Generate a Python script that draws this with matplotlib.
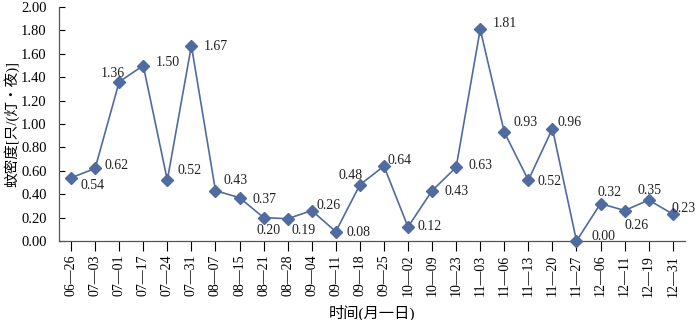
import matplotlib
matplotlib.use('Agg')
import matplotlib.pyplot as plt
import numpy as np

plt.rcParams['font.family'] = ['Liberation Serif', 'Noto Sans CJK SC']

# 监测日期 (月—日)
dates = ['06—26', '07—03', '07—01', '07—17', '07—24', '07—31', '08—07', '08—15',
         '08—21', '08—28', '09—04', '09—11', '09—18', '09—25', '10—02', '10—09',
         '10—23', '11—03', '11—06', '11—13', '11—20', '11—27', '12—06', '12—11',
         '12—19', '12—31']
# 蚊密度 只/(灯·夜)
density = [0.54, 0.62, 1.36, 1.50, 0.52, 1.67, 0.43, 0.37,
           0.20, 0.19, 0.26, 0.08, 0.48, 0.64, 0.12, 0.43,
           0.63, 1.81, 0.93, 0.52, 0.96, 0.00, 0.32, 0.26,
           0.35, 0.23]
yticks = [0.0, 0.2, 0.4, 0.6, 0.8, 1.0, 1.2, 1.4, 1.6, 1.8, 2.0]

# 数据标签偏移 (像素, 标签中心相对于点)
label_offsets = [(22, -8), (21, 3), (-6, 8), (25, 3), (22, 10), (24, -1), (20, 10), (25, -2),
                 (5, -13), (16, -12), (17, 5), (23, -1), (-9, 9), (16, 6), (22, 0), (24, -1),
                 (24, 2), (25, 6), (21, 10), (21, -1), (17, 6), (27, 4), (9, 11), (12, -15),
                 (1, 10), (11, 6)]

line_color = '#4f6ba0'

fig = plt.figure(figsize=(7, 3.2), dpi=100)
ax = fig.add_axes([0.0843, 0.247, 0.894, 0.731])

x = np.arange(len(dates))
ax.plot(x, density, color=line_color, lw=1.2, marker='D', ms=6,
        mfc=line_color, mec=line_color, clip_on=False, zorder=3)

for i, v in enumerate(density):
    dx, dy = label_offsets[i]
    ax.annotate('%.2f' % v, (x[i], v), xytext=(dx, dy), textcoords='offset pixels',
                ha='center', va='center', fontsize=10, color='#222222',
                annotation_clip=False)

ax.set_xlim(-0.5, len(dates) - 0.5)
ax.set_ylim(0, 2.0)
ax.set_yticks(yticks)
ax.set_yticklabels(['%.2f' % t for t in yticks], fontsize=10.5)
ax.set_xticks(x)
ax.set_xticklabels(dates, rotation=90, fontsize=10)

ax.tick_params(axis='y', direction='in', length=4, width=0.8, pad=9)
ax.tick_params(axis='x', direction='out', length=7, width=0.8, pad=3)

for s in ['top', 'right']:
    ax.spines[s].set_visible(False)
for s in ['left', 'bottom']:
    ax.spines[s].set_color('#555555')
    ax.spines[s].set_linewidth(0.9)

ax.set_ylabel('蚊密度[只/(灯・夜)]', fontsize=10.5)
ax.yaxis.set_label_coords(-0.064, 0.5)
ax.set_xlabel('时间(月一日)', fontsize=11, labelpad=6)

fig.savefig('out.png', dpi=100)
